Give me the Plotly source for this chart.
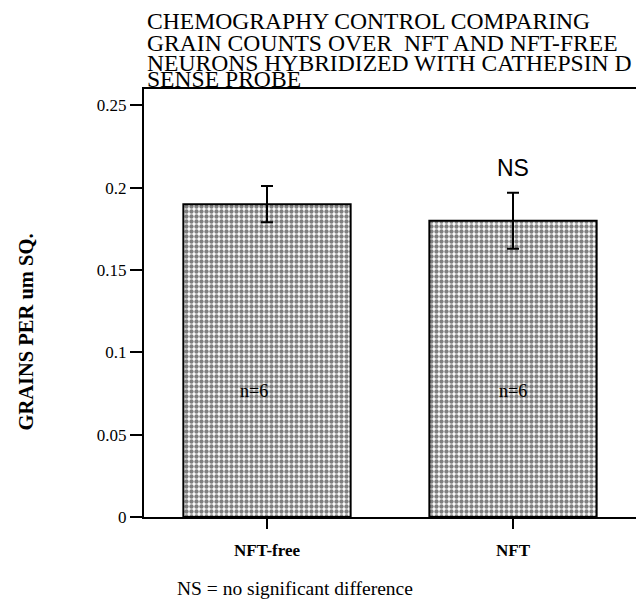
import plotly.graph_objects as go

categories = ["NFT-free", "NFT"]
grain_means = [0.19, 0.18]
grain_sem = [0.011, 0.017]
n_labels = ["n=6", "n=6"]
y_tick_vals = [0, 0.05, 0.1, 0.15, 0.2, 0.25]
y_tick_text = ["0", "0.05", "0.1", "0.15", "0.2", "0.25"]
title_lines = [
    "CHEMOGRAPHY CONTROL COMPARING",
    "GRAIN COUNTS OVER  NFT AND NFT-FREE",
    "NEURONS HYBRIDIZED WITH CATHEPSIN D",
    "SENSE PROBE",
]
y_title = "GRAINS PER um SQ."
sig_label = "NS"
footnote = "NS = no significant difference"

SERIF = "Liberation Serif, serif"
SANS = "Liberation Sans, sans-serif"

fig = go.Figure()
fig.add_trace(go.Bar(
    x=categories, y=grain_means, width=0.68,
    marker=dict(color="white", line=dict(color="black", width=2),
                pattern=dict(shape=".", fgcolor="black", bgcolor="white",
                             size=5, solidity=0.6, fillmode="overlay")),
    error_y=dict(type="data", array=grain_sem, visible=True,
                 color="black", thickness=2, width=6),
    showlegend=False,
))

annotations = []
title_y = [1.160, 1.108, 1.061, 1.023]
for line, yy in zip(title_lines, title_y):
    annotations.append(dict(text=line, xref="paper", yref="paper", x=0, y=yy,
                            xanchor="left", yanchor="middle", xshift=1,
                            showarrow=False,
                            font=dict(family=SERIF, size=23.6, color="black")))
annotations.append(dict(text=y_title, xref="paper", yref="paper", x=-0.239, y=0.432,
                        textangle=-90, showarrow=False, xanchor="center", yanchor="middle",
                        font=dict(family=SERIF, size=20.5, color="black", weight="bold")))
annotations.append(dict(text=sig_label, x=categories[1], y=0.212, xref="x", yref="y",
                        showarrow=False, font=dict(family=SANS, size=23, color="black")))
for i, (c, t) in enumerate(zip(categories, n_labels)):
    annotations.append(dict(text=t, x=c, y=0.0766, xref="x", yref="y", showarrow=False,
                            xshift=-13 if i == 0 else 0,
                            font=dict(family=SERIF, size=18, color="black")))
annotations.append(dict(text=footnote, xref="paper", yref="paper", x=0.063, y=-0.166,
                        xanchor="left", yanchor="middle", showarrow=False,
                        font=dict(family=SERIF, size=19.5, color="black")))

# page body has an 8px default margin, so the figure is sized/offset to compensate
fig.update_layout(
    width=636, height=598,
    margin=dict(l=136, r=6, t=81, b=89),
    paper_bgcolor="white", plot_bgcolor="white",
    annotations=annotations,
)
fig.update_xaxes(showline=True, linecolor="black", linewidth=2, mirror=True,
                 ticks="outside", ticklen=10, tickwidth=2, tickcolor="black",
                 ticklabelstandoff=7,
                 tickfont=dict(family=SERIF, size=17, color="black", weight="bold"),
                 showgrid=False)
fig.update_yaxes(range=[0, 0.26], tickvals=y_tick_vals, ticktext=y_tick_text,
                 showline=True, linecolor="black", linewidth=2, mirror=True,
                 ticks="outside", ticklen=12, tickwidth=2, tickcolor="black",
                 tickfont=dict(family=SERIF, size=17, color="black"),
                 showgrid=False, zeroline=False)

fig.write_html("out.html")
